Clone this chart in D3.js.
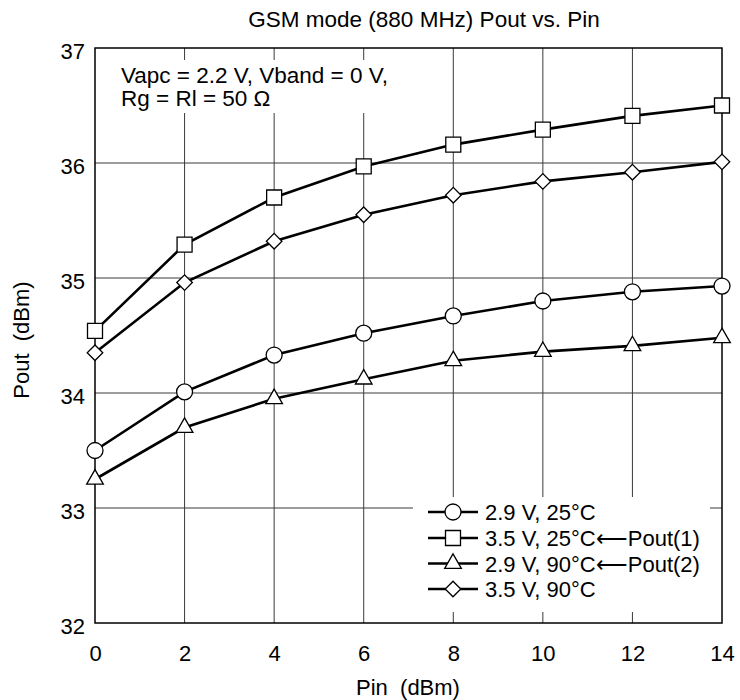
<!DOCTYPE html>
<html>
<head>
<meta charset="utf-8">
<script src="https://cdn.jsdelivr.net/npm/d3@7"></script>
<style>
body { margin: 0; background: #fff; }
text { font-family: "Liberation Sans", Arial, sans-serif; fill: #000; }
</style>
</head>
<body>
<div id="chart"></div>
<script>
var pin = [0, 2, 4, 6, 8, 10, 12, 14];
var v29_25 = [33.50, 34.01, 34.33, 34.52, 34.67, 34.80, 34.88, 34.93];
var v35_25 = [34.54, 35.29, 35.70, 35.97, 36.16, 36.29, 36.41, 36.50];
var v29_90 = [33.25, 33.70, 33.95, 34.12, 34.28, 34.36, 34.41, 34.48];
var v35_90 = [34.35, 34.96, 35.32, 35.55, 35.72, 35.84, 35.92, 36.01];
var seriesNames = ["2.9 V, 25\u00B0C", "3.5 V, 25\u00B0C\u27F5Pout(1)", "2.9 V, 90\u00B0C\u27F5Pout(2)", "3.5 V, 90\u00B0C"];
var xTicks = [0, 2, 4, 6, 8, 10, 12, 14];
var yTicks = [32, 33, 34, 35, 36, 37];

var W = 740, H = 700;
var pLeft = 95, pRight = 722, pTop = 48, pBottom = 623;

var svg = d3.select("#chart").append("svg")
	.attr("width", W)
	.attr("height", H);

var x = d3.scaleLinear().domain([0, 14]).range([pLeft, pRight]);
var y = d3.scaleLinear().domain([32, 37]).range([pBottom, pTop]);

// grid
svg.append("g").selectAll("line")
	.data(xTicks.slice(1, -1))
	.enter().append("line")
	.attr("x1", function(d) { return x(d); })
	.attr("x2", function(d) { return x(d); })
	.attr("y1", pTop).attr("y2", pBottom)
	.attr("stroke", "#3a3a3a").attr("stroke-width", 1);

svg.append("g").selectAll("line")
	.data(yTicks.slice(1, -1))
	.enter().append("line")
	.attr("x1", pLeft).attr("x2", pRight)
	.attr("y1", function(d) { return y(d); })
	.attr("y2", function(d) { return y(d); })
	.attr("stroke", "#3a3a3a").attr("stroke-width", 1);

// note box
svg.append("rect")
	.attr("x", 113).attr("y", 60).attr("width", 300).attr("height", 53)
	.attr("fill", "#fff");
svg.append("text").attr("x", 121).attr("y", 83)
	.attr("font-size", 22.5).text("Vapc = 2.2 V, Vband = 0 V,");
svg.append("text").attr("x", 121).attr("y", 106)
	.attr("font-size", 22.5).text("Rg = Rl = 50 \u03A9");

// legend box
svg.append("rect")
	.attr("x", 413).attr("y", 497).attr("width", 297).attr("height", 115)
	.attr("fill", "#fff");

// frame
svg.append("rect")
	.attr("x", pLeft).attr("y", pTop)
	.attr("width", pRight - pLeft).attr("height", pBottom - pTop)
	.attr("fill", "none").attr("stroke", "#000").attr("stroke-width", 1.5);

// axes labels
var xAxis = d3.axisBottom(x).tickValues(xTicks).tickSize(0).tickPadding(38);
var gx = svg.append("g").attr("transform", "translate(0," + pBottom + ")").call(xAxis);
gx.select(".domain").remove();
gx.selectAll("text").attr("font-size", 22).attr("font-family", "Liberation Sans, Arial, sans-serif")
	.attr("dy", "0");

var yAxis = d3.axisLeft(y).tickValues(yTicks).tickSize(0).tickPadding(10)
	.tickFormat(d3.format("d"));
var gy = svg.append("g").attr("transform", "translate(" + pLeft + ",3)").call(yAxis);
gy.select(".domain").remove();
gy.selectAll("text").attr("font-size", 22).attr("font-family", "Liberation Sans, Arial, sans-serif");

svg.append("text").attr("x", 424).attr("y", 27)
	.attr("text-anchor", "middle").attr("font-size", 22.5)
	.text("GSM mode (880 MHz) Pout vs. Pin");

svg.append("text").attr("x", 408).attr("y", 695)
	.attr("text-anchor", "middle").attr("font-size", 22)
	.attr("xml:space", "preserve")
	.text("Pin  (dBm)");

svg.append("text")
	.attr("transform", "translate(29,340) rotate(-90)")
	.attr("text-anchor", "middle").attr("font-size", 22)
	.attr("xml:space", "preserve")
	.text("Pout  (dBm)");

// series
var series = [v29_25, v35_25, v29_90, v35_90];
var shapes = [
	d3.symbol().type(d3.symbolCircle).size(201),
	d3.symbol().type(d3.symbolSquare).size(225),
	d3.symbol().type(d3.symbolTriangle).size(120),
	d3.symbol().type(d3.symbolSquare).size(121)
];
var rots = [0, 0, 0, 45];

var line = d3.line()
	.x(function(d, i) { return x(pin[i]); })
	.y(function(d) { return y(d); });

series.forEach(function(s) {
	svg.append("path")
		.attr("d", line(s))
		.attr("fill", "none")
		.attr("stroke", "#000")
		.attr("stroke-width", 2.6);
});

series.forEach(function(s, k) {
	svg.append("g").selectAll("path")
		.data(s)
		.enter().append("path")
		.attr("d", shapes[k])
		.attr("transform", function(d, i) {
			return "translate(" + x(pin[i]) + "," + y(d) + ") rotate(" + rots[k] + ")";
		})
		.attr("fill", "#fff")
		.attr("stroke", "#000")
		.attr("stroke-width", 1.3);
});

// legend
var legY = [512, 538, 563.5, 589];
seriesNames.forEach(function(name, k) {
	var g = svg.append("g").attr("transform", "translate(0," + legY[k] + ")");
	g.append("line").attr("x1", 428).attr("x2", 478)
		.attr("y1", 0).attr("y2", 0)
		.attr("stroke", "#000").attr("stroke-width", 2.6);
	g.append("path").attr("d", shapes[k])
		.attr("transform", "translate(453,0) rotate(" + rots[k] + ")")
		.attr("fill", "#fff").attr("stroke", "#000").attr("stroke-width", 1.3);
	g.append("text").attr("x", 485).attr("y", 8)
		.attr("font-size", 22).text(name);
});
</script>
</body>
</html>
